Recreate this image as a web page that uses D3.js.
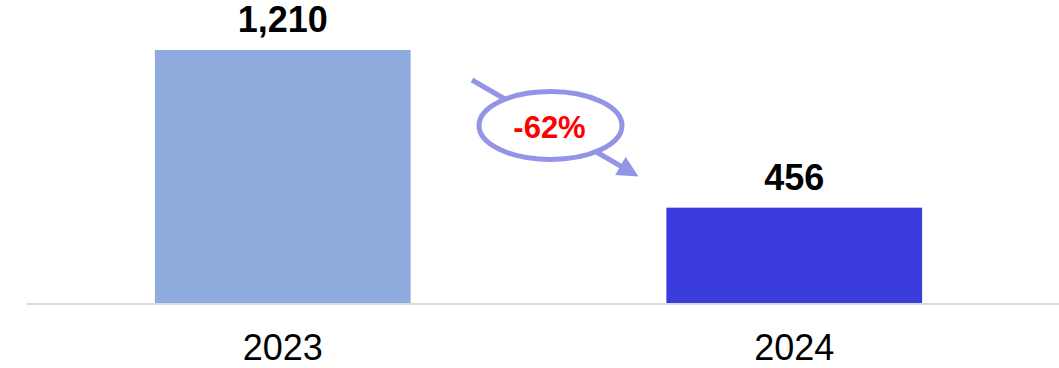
<!DOCTYPE html>
<html>
<head>
<meta charset="utf-8">
<script src="https://cdn.jsdelivr.net/npm/d3@7"></script>
<style>
  html, body { margin: 0; padding: 0; background: #fff; }
  svg { display: block; font-family: "Liberation Sans", Arial, sans-serif; }
</style>
</head>
<body>
<svg id="chart" width="1059" height="368"></svg>
<script>
// Yearly totals
const years = ["2023", "2024"];
const values = [1210, 456];
const barColors = ["#8faadc", "#3a3ddc"];
const changeLabel = "-62%";

const W = 1059, H = 368;
const svg = d3.select("#chart");

const x = d3.scaleBand().domain(years).range([27, 1050]).paddingInner(0.5).paddingOuter(0.25);
const y = d3.scaleLinear().domain([0, 1210]).range([303, 50]);

// baseline
svg.append("line")
  .attr("x1", 27).attr("x2", W)
  .attr("y1", y(0) + 1).attr("y2", y(0) + 1)
  .attr("stroke", "#d9d9d9").attr("stroke-width", 2);

// bars
svg.selectAll("rect.bar").data(years).join("rect")
  .attr("class", "bar")
  .attr("x", d => x(d))
  .attr("width", x.bandwidth())
  .attr("y", (d, i) => y(values[i]))
  .attr("height", (d, i) => y(0) - y(values[i]))
  .attr("fill", (d, i) => barColors[i]);

// value labels
svg.selectAll("text.val").data(years).join("text")
  .attr("class", "val")
  .attr("x", d => x(d) + x.bandwidth() / 2)
  .attr("y", (d, i) => y(values[i]) - 18)
  .attr("text-anchor", "middle")
  .attr("font-size", 36).attr("font-weight", "bold").attr("fill", "#000")
  .text((d, i) => d3.format(",")(values[i]));

// category labels
svg.selectAll("text.cat").data(years).join("text")
  .attr("class", "cat")
  .attr("x", d => x(d) + x.bandwidth() / 2)
  .attr("y", 360)
  .attr("text-anchor", "middle")
  .attr("font-size", 36).attr("fill", "#000")
  .text(d => d);

// change indicator: arrow through an ellipse badge
const accent = "#9394e8";
const defs = svg.append("defs");
defs.append("marker")
  .attr("id", "head")
  .attr("viewBox", "0 0 10 10")
  .attr("refX", 2).attr("refY", 5)
  .attr("markerWidth", 4.2).attr("markerHeight", 4.2)
  .attr("markerUnits", "strokeWidth")
  .attr("orient", "auto")
  .append("path").attr("d", "M0,0 L10,5 L0,10 Z").attr("fill", accent);

const midX = (x(years[0]) + x.bandwidth() + x(years[1])) / 2;
svg.append("line")
  .attr("x1", 472).attr("y1", 80)
  .attr("x2", 624).attr("y2", 168)
  .attr("stroke", accent).attr("stroke-width", 5)
  .attr("marker-end", "url(#head)");

svg.append("ellipse")
  .attr("cx", midX + 12).attr("cy", 125.5)
  .attr("rx", 71.5).attr("ry", 34)
  .attr("fill", "#fff")
  .attr("stroke", accent).attr("stroke-width", 5);

svg.append("text")
  .attr("x", midX + 11).attr("y", 138)
  .attr("text-anchor", "middle")
  .attr("font-size", 31).attr("font-weight", "bold").attr("fill", "#ff0000")
  .text(changeLabel);
</script>
</body>
</html>
